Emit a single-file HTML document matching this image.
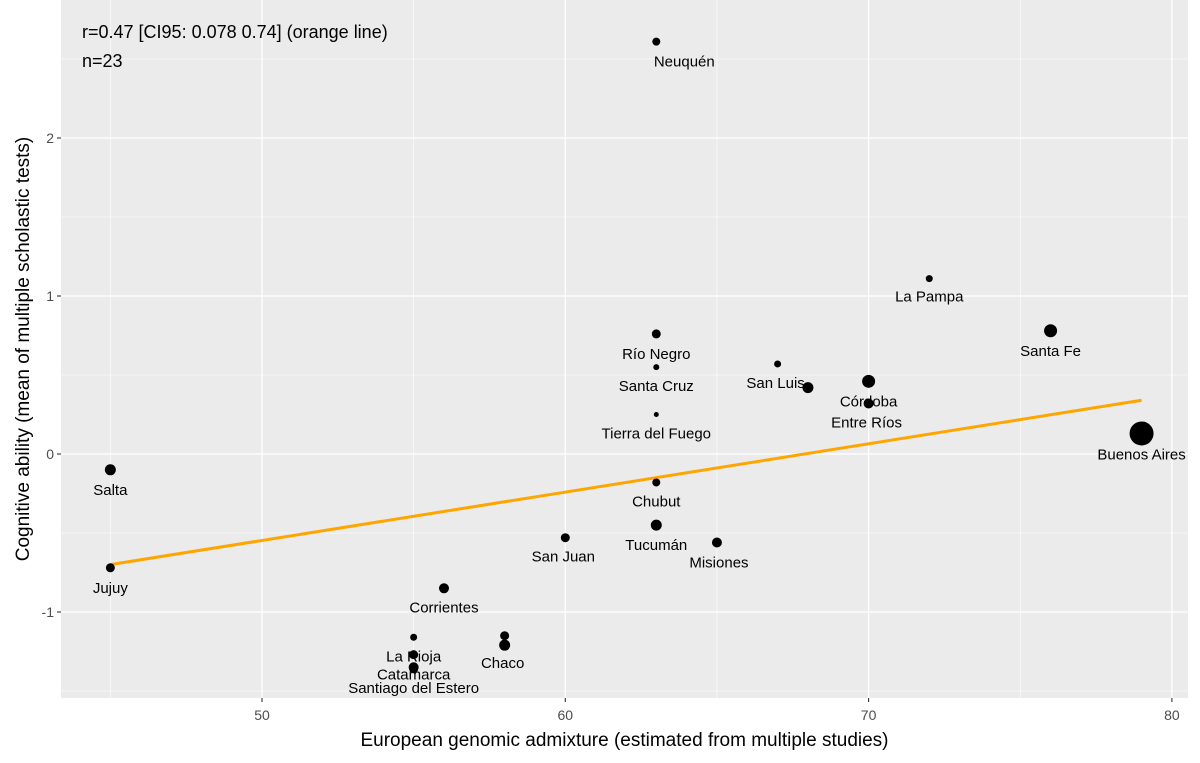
<!DOCTYPE html>
<html><head><meta charset="utf-8"><style>
body{margin:0;background:#fff;font-family:"Liberation Sans",Arial,sans-serif}
svg text{font-family:"Liberation Sans",Arial,sans-serif}
</style></head><body>
<svg id="c" width="1200" height="758" xmlns="http://www.w3.org/2000/svg"></svg>
<script>
const names=["Neuquén","La Pampa","Santa Fe","Río Negro","Santa Cruz","San Luis","","Córdoba","Entre Ríos","Tierra del Fuego","Buenos Aires","Salta","Chubut","San Juan","Tucumán","Misiones","Jujuy","Corrientes","","La Rioja","Catamarca","Santiago del Estero","Chaco",""];
const admix=[63,72,76,63,63,67,68,70,70,63,79,45,63,60,63,65,45,56,55,55,55,55,58,58];
const cog=[2.61,1.11,0.78,0.76,0.55,0.57,0.42,0.46,0.32,0.25,0.13,-0.10,-0.18,-0.53,-0.45,-0.56,-0.72,-0.85,-1.16,-1.27,-1.35,-1.36,-1.21,-1.15];
const radius=[4,3.5,6.5,4.5,3,3.5,5.5,6.5,5,2.5,12,5.5,4,4.5,5.5,5,4.5,5,3.5,4.5,5,4.5,5.5,4.5];
const labelDx=[28,0,0,0,0,-2,0,0,-2,0,0,0,0,-2,0,2,0,0,0,0,0,0,-2,0];
const labelDy=[20,18,20,20,19,19,0,20,19,19,21,20,19,19,20,20,20,19,0,2,7,19,18,0];
const fitX=[45,79];
const fitY=[-0.70,0.34];
const xTicks=[50,60,70,80];
const yTicks=[-1,0,1,2];
const xMinor=[45,55,65,75];
const yMinor=[-1.5,-0.5,0.5,1.5,2.5];

const NS="http://www.w3.org/2000/svg",svg=document.getElementById('c');
const L=61,R=1188,T=0,B=698;
const X=v=>262+(v-50)*30.33;
const Y=v=>454-v*158;
function el(t,a,p){const e=document.createElementNS(NS,t);for(const k in a)e.setAttribute(k,a[k]);(p||svg).appendChild(e);return e;}
const panel=el('rect',{x:L,y:T,width:R-L,height:B-T,fill:'#ebebeb'});


xMinor.forEach(v=>{const g=el('line',{x1:X(v),x2:X(v),y1:T,y2:B,stroke:'#fff','stroke-width':0.6});});
yMinor.forEach(v=>{const g=el('line',{x1:L,x2:R,y1:Y(v),y2:Y(v),stroke:'#fff','stroke-width':0.6});});
xTicks.forEach(v=>{
 const g=el('line',{x1:X(v),x2:X(v),y1:T,y2:B,stroke:'#fff','stroke-width':1.3});
 
 el('line',{x1:X(v),x2:X(v),y1:B,y2:B+4,stroke:'#333','stroke-width':1.1});
 const t=el('text',{x:X(v),y:B+22,'text-anchor':'middle','font-size':14,fill:'#4d4d4d'});t.textContent=v;
 
});
yTicks.forEach(v=>{
 const g=el('line',{x1:L,x2:R,y1:Y(v),y2:Y(v),stroke:'#fff','stroke-width':1.3});
 
 el('line',{x1:L-4,x2:L,y1:Y(v),y2:Y(v),stroke:'#333','stroke-width':1.1});
 const t=el('text',{x:L-7,y:Y(v)+5,'text-anchor':'end','font-size':14,fill:'#4d4d4d'});t.textContent=v;
 
});
const fl=el('line',{x1:X(fitX[0]),y1:Y(fitY[0]),x2:X(fitX[1]),y2:Y(fitY[1]),stroke:'#ffa500','stroke-width':3});

admix.forEach((a,i)=>{
 const c=el('circle',{cx:X(a),cy:Y(cog[i]),r:radius[i],fill:'#000'});
 
 
});
admix.forEach((a,i)=>{
 if(!names[i])return;
 const t=el('text',{x:X(a)+labelDx[i],y:Y(cog[i])+labelDy[i]+5,'text-anchor':'middle','font-size':15,fill:'#000'});
 t.textContent=names[i];
 
 
});
const a1=el('text',{x:82,y:38,'font-size':18,fill:'#000'});a1.textContent='r=0.47 [CI95: 0.078 0.74] (orange line)';

const a2=el('text',{x:82,y:67,'font-size':18,fill:'#000'});a2.textContent='n=23';

const xt=el('text',{x:(L+R)/2,y:746,'text-anchor':'middle','font-size':19,fill:'#000'});xt.textContent='European genomic admixture (estimated from multiple studies)';

const yt=el('text',{x:0,y:0,'text-anchor':'middle','font-size':19,fill:'#000',transform:'translate(29,'+((T+B)/2)+') rotate(-90)'});yt.textContent='Cognitive ability (mean of multiple scholastic tests)';

</script>
</body></html>
